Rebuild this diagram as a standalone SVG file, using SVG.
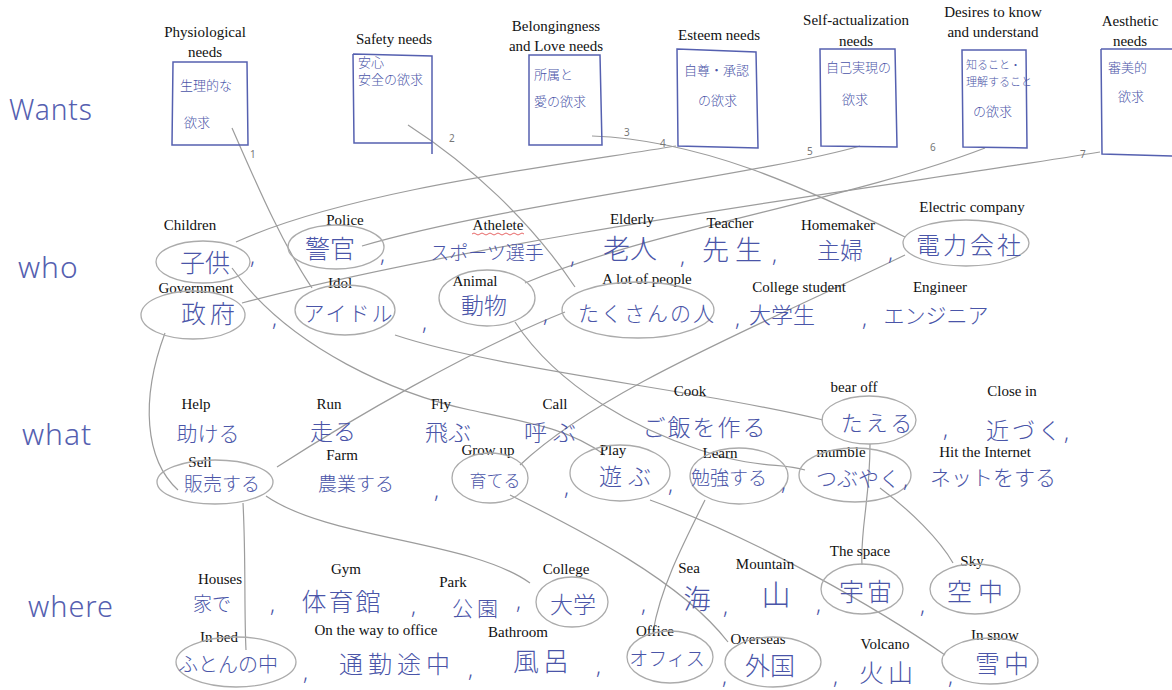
<svg xmlns="http://www.w3.org/2000/svg" width="1172" height="690" viewBox="0 0 1172 690">
<style>
.lbl{font-family:"Liberation Serif",serif;font-size:15px;fill:#111;text-anchor:middle}
.jp{font-family:"Noto Sans CJK JP","Noto Sans",sans-serif;font-weight:300;fill:#4a55a8;text-anchor:middle}
.bx{font-family:"Noto Sans CJK JP",sans-serif;font-weight:300;fill:#4a55a8;font-size:13px}
.box{fill:none;stroke:#5560b0;stroke-width:1.5}
.ell{fill:none;stroke:#ababab;stroke-width:1.3}
.con{fill:none;stroke:#9c9c9c;stroke-width:1.2}
.row{font-family:"Noto Sans","DejaVu Sans",sans-serif;font-weight:300;fill:#5560b0;font-size:30px;letter-spacing:1px}
.num{font-family:"Noto Sans",sans-serif;font-size:10px;fill:#777}
.cm{font-family:"Noto Sans",sans-serif;font-size:22px;fill:#4a55a8;font-weight:300}
</style>
<rect width="1172" height="690" fill="#fff"/>

<!-- row headers -->
<text class="row" x="9" y="120" textLength="84" lengthAdjust="spacingAndGlyphs">Wants</text>
<text class="row" x="18" y="278">who</text>
<text class="row" x="22" y="445">what</text>
<text class="row" x="28" y="617" textLength="86" lengthAdjust="spacingAndGlyphs">where</text>

<!-- connectors -->
<g id="connectors">
<path class="con" d="M232,128 C255,180 280,240 312,288"/>
<path class="con" d="M408,125 C470,165 530,220 575,287"/>
<path class="con" d="M592,136 C700,140 800,185 905,237"/>
<path class="con" d="M676,146 C560,165 350,190 236,242"/>
<path class="con" d="M860,146 C760,175 500,205 362,246"/>
<path class="con" d="M985,148 C850,200 650,230 525,283"/>
<path class="con" d="M1100,152 C900,185 500,235 242,303"/>
<path class="con" d="M165,333 C140,400 145,460 178,490"/>
<path class="con" d="M232,268 C290,350 400,395 470,410 S570,430 605,455"/>
<path class="con" d="M395,335 C500,370 700,390 823,420"/>
<path class="con" d="M515,322 C560,390 640,430 700,450 S780,462 805,470"/>
<path class="con" d="M905,255 C750,330 600,390 520,465"/>
<path class="con" d="M277,467 C350,420 470,350 565,312"/>
<path class="con" d="M243,503 C246,560 244,610 246,650"/>
<path class="con" d="M266,496 C330,540 470,540 530,583"/>
<path class="con" d="M510,495 C580,530 680,580 728,642"/>
<path class="con" d="M650,500 C760,540 880,610 945,655"/>
<path class="con" d="M705,500 C680,550 660,590 653,632"/>
<path class="con" d="M870,444 C870,500 860,530 862,565"/>
<path class="con" d="M880,488 C910,510 940,540 953,563"/>
<text class="num" x="250" y="158">1</text>
<text class="num" x="449" y="142">2</text>
<text class="num" x="624" y="136">3</text>
<text class="num" x="660" y="147">4</text>
<text class="num" x="807" y="155">5</text>
<text class="num" x="930" y="151">6</text>
<text class="num" x="1080" y="158">7</text>
</g>

<!-- Wants -->
<g id="physiological">
<text class="lbl" x="205" y="37">Physiological</text><text class="lbl" x="205" y="57">needs</text>
<path class="box" d="M173,62 L247,62 L248,145 L172,145 Z"/>
<text class="bx" x="180" y="90">生理的な</text><text class="bx" x="184" y="127">欲求</text>
</g>
<g id="safety">
<text class="lbl" x="394" y="44">Safety needs</text>
<path class="box" d="M353,54 L432,56 L432,154 M353,54 L354,143 L432,143"/>
<text class="bx" x="358" y="67">安心</text><text class="bx" x="358" y="84">安全の欲求</text>
</g>
<g id="belonging">
<text class="lbl" x="556" y="31">Belongingness</text><text class="lbl" x="556" y="51">and Love needs</text>
<path class="box" d="M529,55 L600,55 L602,145 L529,145 Z"/>
<text class="bx" x="534" y="79">所属と</text><text class="bx" x="534" y="106">愛の欲求</text>
</g>
<g id="esteem">
<text class="lbl" x="719" y="40">Esteem needs</text>
<path class="box" d="M677,49 L756,52 L758,148 L678,146 Z"/>
<text class="bx" x="684" y="75">自尊・承認</text><text class="bx" x="698" y="105">の欲求</text>
</g>
<g id="selfact">
<text class="lbl" x="856" y="25">Self-actualization</text><text class="lbl" x="856" y="46">needs</text>
<path class="box" d="M820,49 L895,49 L897,147 L821,146 Z"/>
<text class="bx" x="826" y="72">自己実現の</text><text class="bx" x="842" y="104">欲求</text>
</g>
<g id="desires">
<text class="lbl" x="993" y="17">Desires to know</text><text class="lbl" x="993" y="37">and understand</text>
<path class="box" d="M962,50 L1026,50 L1027,148 L963,147 Z"/>
<text class="bx" x="966" y="69" style="font-size:11px">知ること・</text><text class="bx" x="966" y="86" style="font-size:11px">理解すること</text><text class="bx" x="973" y="116">の欲求</text>
</g>
<g id="aesthetic">
<text class="lbl" x="1130" y="26">Aesthetic</text><text class="lbl" x="1130" y="46">needs</text>
<path class="box" d="M1101,49 L1172,49 M1101,49 L1102,154 L1172,156"/>
<text class="bx" x="1108" y="72">審美的</text><text class="bx" x="1118" y="101">欲求</text>
</g>

<!-- who -->
<g id="children"><text class="lbl" x="190" y="230">Children</text><ellipse class="ell" cx="203" cy="262" rx="47" ry="21"/><text class="jp" x="205" y="272" font-size="25">子供</text></g>
<text class="cm" x="250" y="264">,</text>
<g id="police"><text class="lbl" x="345" y="225">Police</text><ellipse class="ell" cx="336" cy="247" rx="48" ry="22"/><text class="jp" x="330" y="258" font-size="25">警官</text></g>
<text class="cm" x="380" y="262">,</text>
<g id="athlete"><text class="lbl" x="498" y="230">Athelete</text><path d="M472,234 q2,-2 4,0 t4,0 t4,0 t4,0 t4,0 t4,0 t4,0 t4,0 t4,0 t4,0 t4,0 t4,0 t4,0" fill="none" stroke="#e04040" stroke-width="0.8"/><text class="jp" x="487" y="260" font-size="19">スポーツ選手</text></g>
<text class="cm" x="570" y="264">,</text>
<g id="elderly"><text class="lbl" x="632" y="224">Elderly</text><text class="jp" x="630" y="259" font-size="27">老人</text></g>
<text class="cm" x="680" y="264">,</text>
<g id="teacher"><text class="lbl" x="730" y="228">Teacher</text><text class="jp" x="735" y="260" font-size="27" letter-spacing="6">先生</text></g>
<text class="cm" x="772" y="262">,</text>
<g id="homemaker"><text class="lbl" x="838" y="230">Homemaker</text><text class="jp" x="840" y="259" font-size="23">主婦</text></g>
<text class="cm" x="888" y="260">,</text>
<g id="electric"><text class="lbl" x="972" y="212">Electric company</text><ellipse class="ell" cx="966" cy="243" rx="63" ry="23"/><text class="jp" x="970" y="254" font-size="24" letter-spacing="3">電力会社</text></g>

<g id="government"><text class="lbl" x="196" y="293">Government</text><ellipse class="ell" cx="193" cy="315" rx="52" ry="24"/><text class="jp" x="210" y="323" font-size="25" letter-spacing="4">政府</text></g>
<text class="cm" x="272" y="326">,</text>
<g id="idol"><text class="lbl" x="340" y="288">Idol</text><ellipse class="ell" cx="345" cy="310" rx="50" ry="25"/><text class="jp" x="349" y="321" font-size="21" letter-spacing="2">アイドル</text></g>
<text class="cm" x="422" y="330">,</text>
<g id="animal"><text class="lbl" x="475" y="286">Animal</text><ellipse class="ell" cx="487" cy="298" rx="48" ry="28"/><text class="jp" x="484" y="314" font-size="23">動物</text></g>
<text class="cm" x="543" y="322">,</text>
<g id="alot"><text class="lbl" x="647" y="284">A lot of people</text><ellipse class="ell" cx="638" cy="310" rx="76" ry="28"/><text class="jp" x="647" y="321" font-size="21" letter-spacing="2">たくさんの人</text></g>
<text class="cm" x="735" y="326">,</text>
<g id="student"><text class="lbl" x="799" y="292">College student</text><text class="jp" x="782" y="323" font-size="22">大学生</text></g>
<text class="cm" x="862" y="326">,</text>
<g id="engineer"><text class="lbl" x="940" y="292">Engineer</text><text class="jp" x="936" y="323" font-size="21">エンジニア</text></g>

<!-- what -->
<g id="help"><text class="lbl" x="196" y="409">Help</text><text class="jp" x="208" y="441" font-size="21">助ける</text></g>
<g id="run"><text class="lbl" x="329" y="409">Run</text><text class="jp" x="333" y="440" font-size="23">走る</text></g>
<g id="fly"><text class="lbl" x="441" y="409">Fly</text><text class="jp" x="448" y="441" font-size="23">飛ぶ</text></g>
<g id="call"><text class="lbl" x="555" y="409">Call</text><text class="jp" x="553" y="441" font-size="23" letter-spacing="6">呼ぶ</text></g>
<g id="cook"><text class="lbl" x="690" y="396">Cook</text><text class="jp" x="705" y="436" font-size="23" letter-spacing="2">ご飯を作る</text></g>
<g id="bearoff"><text class="lbl" x="854" y="392">bear off</text><ellipse class="ell" cx="869" cy="420" rx="47" ry="24"/><text class="jp" x="878" y="431" font-size="22" letter-spacing="3">たえる</text></g>
<text class="cm" x="943" y="437">,</text>
<g id="closein"><text class="lbl" x="1012" y="396">Close in</text><text class="jp" x="1025" y="439" font-size="23" letter-spacing="3">近づく</text></g>
<text class="cm" x="1064" y="440">,</text>

<g id="sell"><text class="lbl" x="200" y="467">Sell</text><ellipse class="ell" cx="215" cy="482" rx="58" ry="22"/><text class="jp" x="222" y="491" font-size="19">販売する</text></g>
<g id="farm"><text class="lbl" x="342" y="460">Farm</text><text class="jp" x="356" y="491" font-size="19">農業する</text></g>
<text class="cm" x="434" y="498">,</text>
<g id="growup"><text class="lbl" x="488" y="455">Grow up</text><ellipse class="ell" cx="490" cy="478" rx="38" ry="25"/><text class="jp" x="495" y="487" font-size="17">育てる</text></g>
<text class="cm" x="564" y="495">,</text>
<g id="play"><text class="lbl" x="613" y="455">Play</text><ellipse class="ell" cx="620" cy="473" rx="50" ry="28"/><text class="jp" x="628" y="485" font-size="23" letter-spacing="6">遊ぶ</text></g>
<text class="cm" x="668" y="492">,</text>
<g id="learn"><text class="lbl" x="720" y="458">Learn</text><ellipse class="ell" cx="739" cy="476" rx="49" ry="28"/><text class="jp" x="729" y="485" font-size="19">勉強する</text></g>
<text class="cm" x="781" y="490">,</text>
<g id="mumble"><text class="lbl" x="841" y="457">mumble</text><ellipse class="ell" cx="855" cy="475" rx="56" ry="27"/><text class="jp" x="858" y="486" font-size="21">つぶやく</text></g>
<text class="cm" x="903" y="487">,</text>
<g id="internet"><text class="lbl" x="985" y="457">Hit the Internet</text><text class="jp" x="993" y="485" font-size="21">ネットをする</text></g>

<!-- where -->
<g id="houses"><text class="lbl" x="220" y="584">Houses</text><text class="jp" x="212" y="611" font-size="19">家で</text></g>
<text class="cm" x="270" y="612">,</text>
<g id="gym"><text class="lbl" x="346" y="574">Gym</text><text class="jp" x="342" y="611" font-size="25" letter-spacing="2">体育館</text></g>
<text class="cm" x="411" y="614">,</text>
<g id="park"><text class="lbl" x="453" y="587">Park</text><text class="jp" x="477" y="616" font-size="21" letter-spacing="4">公園</text></g>
<text class="cm" x="516" y="609">,</text>
<g id="college"><text class="lbl" x="566" y="574">College</text><ellipse class="ell" cx="572" cy="602" rx="36" ry="25"/><text class="jp" x="573" y="613" font-size="23">大学</text></g>
<text class="cm" x="641" y="612">,</text>
<g id="sea"><text class="lbl" x="689" y="573">Sea</text><text class="jp" x="697" y="609" font-size="27">海</text></g>
<text class="cm" x="723" y="614">,</text>
<g id="mountain"><text class="lbl" x="765" y="569">Mountain</text><text class="jp" x="776" y="606" font-size="29">山</text></g>
<text class="cm" x="816" y="612">,</text>
<g id="space"><text class="lbl" x="860" y="556">The space</text><ellipse class="ell" cx="862" cy="589" rx="41" ry="25"/><text class="jp" x="867" y="601" font-size="25" letter-spacing="3">宇宙</text></g>
<text class="cm" x="920" y="613">,</text>
<g id="sky"><text class="lbl" x="972" y="566">Sky</text><ellipse class="ell" cx="975" cy="589" rx="45" ry="25"/><text class="jp" x="978" y="601" font-size="25" letter-spacing="6">空中</text></g>

<g id="inbed"><text class="lbl" x="219" y="642">In bed</text><ellipse class="ell" cx="236" cy="662" rx="60" ry="25"/><text class="jp" x="228" y="672" font-size="20">ふとんの中</text></g>
<text class="cm" x="303" y="680">,</text>
<g id="commute"><text class="lbl" x="376" y="635">On the way to office</text><text class="jp" x="397" y="673" font-size="24" letter-spacing="5">通勤途中</text></g>
<text class="cm" x="468" y="677">,</text>
<g id="bathroom"><text class="lbl" x="518" y="637">Bathroom</text><text class="jp" x="543" y="671" font-size="26" letter-spacing="4">風呂</text></g>
<text class="cm" x="596" y="674">,</text>
<g id="office"><text class="lbl" x="655" y="636">Office</text><ellipse class="ell" cx="670" cy="657" rx="43" ry="26"/><text class="jp" x="667" y="666" font-size="19">オフィス</text></g>
<text class="cm" x="722" y="684">,</text>
<g id="overseas"><text class="lbl" x="758" y="644">Overseas</text><ellipse class="ell" cx="773" cy="662" rx="48" ry="25"/><text class="jp" x="770" y="675" font-size="25">外国</text></g>
<text class="cm" x="833" y="684">,</text>
<g id="volcano"><text class="lbl" x="885" y="649">Volcano</text><text class="jp" x="888" y="682" font-size="25" letter-spacing="4">火山</text></g>
<text class="cm" x="948" y="684">,</text>
<g id="insnow"><text class="lbl" x="995" y="640">In snow</text><ellipse class="ell" cx="990" cy="661" rx="48" ry="23"/><text class="jp" x="1004" y="673" font-size="25" letter-spacing="4">雪中</text></g>
</svg>
